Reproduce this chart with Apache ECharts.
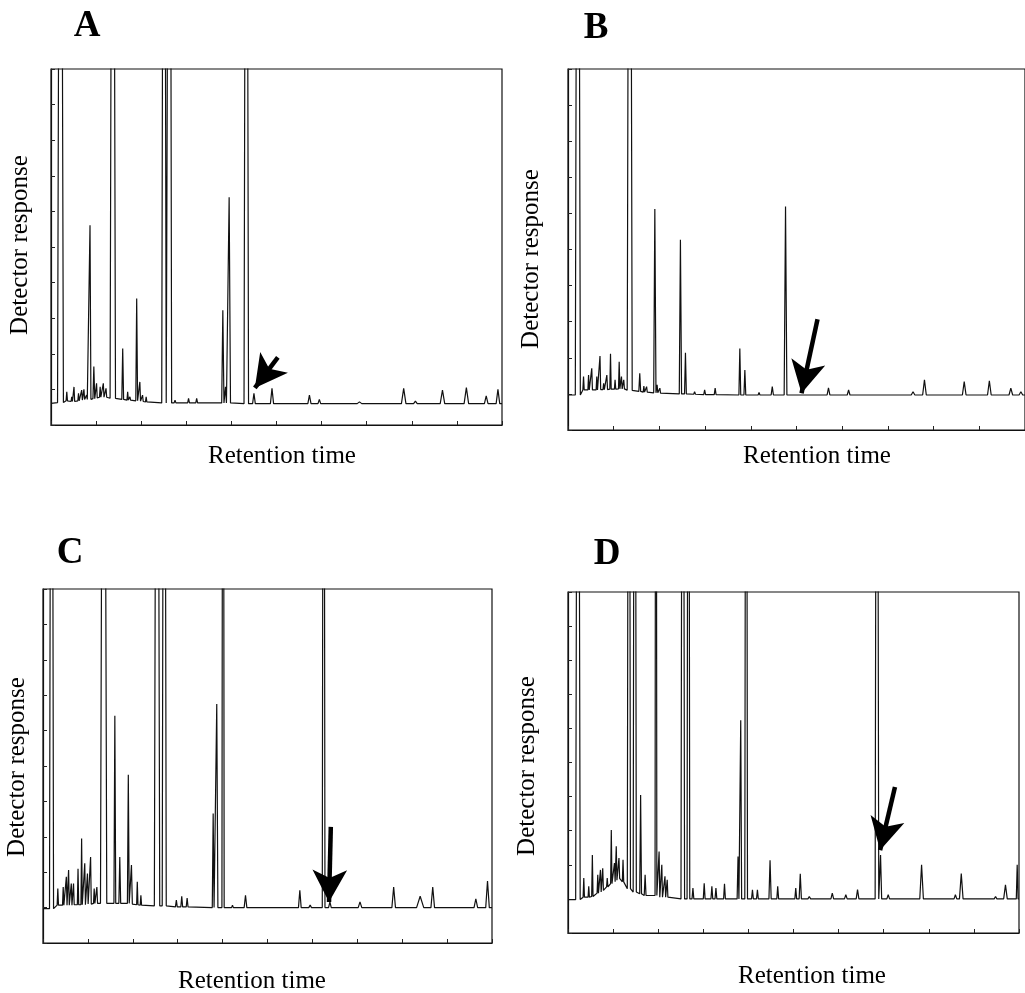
<!DOCTYPE html>
<html><head><meta charset="utf-8">
<script src="https://cdn.jsdelivr.net/npm/echarts@6/dist/echarts.min.js"></script>
<style>html,body{margin:0;padding:0;background:#fff}#c{width:1025px;height:993px}</style>
</head><body><div id="c"></div>
<script>
// Peak tables: [retention time, peak height, local baseline, half-width] (axis units 0..10)
const peaksA = [
 [0.21,30,0.63,0.065],[0.35,0.93,0.68,0.015],[0.46,0.79,0.66,0.015],[0.51,1.07,0.66,0.015],
 [0.61,0.89,0.68,0.015],[0.68,0.98,0.70,0.015],[0.73,1.00,0.72,0.015],[0.79,0.84,0.72,0.015],
 [0.865,5.61,0.72,0.02],[0.95,1.64,0.74,0.02],[1.01,1.17,0.76,0.015],[1.09,1.07,0.78,0.015],
 [1.16,1.17,0.78,0.015],[1.22,1.03,0.78,0.015],[1.37,30,0.75,0.06],[1.59,2.15,0.72,0.02],
 [1.70,0.93,0.70,0.015],[1.75,0.79,0.70,0.015],[1.90,3.55,0.68,0.02],[1.97,1.21,0.67,0.015],
 [2.03,0.84,0.66,0.015],[2.11,0.79,0.65,0.015],[2.505,30,0.62,0.05],[2.63,30,0.62,0.045],
 [2.75,0.70,0.62,0.02],[3.05,0.75,0.62,0.02],[3.23,0.75,0.62,0.02],[3.81,3.22,0.62,0.025],
 [3.87,1.07,0.62,0.02],[3.95,6.40,0.62,0.03],[4.33,30,0.60,0.05],[4.50,0.89,0.60,0.03],
 [4.90,1.03,0.60,0.035],[5.73,0.84,0.60,0.035],[5.95,0.72,0.60,0.03],[6.84,0.65,0.60,0.05],
 [7.82,1.03,0.60,0.05],[8.08,0.67,0.60,0.04],[8.68,0.98,0.60,0.05],[9.21,1.05,0.60,0.05],
 [9.65,0.82,0.60,0.04],[9.91,1.00,0.60,0.04]
];
const peaksB = [
 [0.215,30,0.97,0.055],[0.34,1.48,1.11,0.015],[0.45,1.52,1.11,0.015],[0.52,1.71,1.11,0.015],
 [0.63,1.48,1.11,0.015],[0.70,2.05,1.12,0.015],[0.78,1.29,1.12,0.015],[0.85,1.52,1.12,0.015],
 [0.93,2.11,1.13,0.015],[1.03,1.39,1.13,0.015],[1.12,1.89,1.14,0.015],[1.17,1.48,1.14,0.015],
 [1.22,1.39,1.14,0.015],[1.35,30,1.10,0.055],[1.57,1.57,1.07,0.02],[1.66,1.22,1.05,0.015],
 [1.72,1.20,1.05,0.015],[1.90,6.12,1.03,0.025],[1.95,1.25,1.03,0.015],[2.01,1.16,1.02,0.015],
 [2.46,5.27,1.00,0.025],[2.57,2.14,1.00,0.02],[2.77,1.06,0.99,0.02],[2.99,1.11,0.98,0.02],
 [3.22,1.16,0.98,0.02],[3.76,2.26,0.97,0.02],[3.87,1.66,0.97,0.02],[4.18,1.04,0.97,0.02],
 [4.47,1.20,0.97,0.025],[4.76,6.19,0.97,0.03],[5.70,1.17,0.97,0.03],[5.94,1.02,0.97,0.03],
 [6.14,1.11,0.97,0.03],[6.39,1.00,0.97,0.04],[7.55,1.06,0.97,0.04],[7.80,1.39,0.97,0.04],
 [8.06,1.00,0.97,0.04],[8.67,1.34,0.97,0.04],[9.22,1.36,0.97,0.04],[9.69,1.16,0.97,0.04],
 [9.91,1.06,0.97,0.04]
];
const peaksC = [
 [0.19,30,0.97,0.045],[0.33,1.54,1.07,0.015],[0.45,1.58,1.07,0.015],[0.52,1.87,1.07,0.015],
 [0.57,2.06,1.07,0.015],[0.63,1.68,1.07,0.015],[0.68,1.68,1.08,0.015],[0.78,2.10,1.08,0.015],
 [0.86,2.95,1.08,0.015],[0.93,2.25,1.08,0.015],[0.99,1.96,1.10,0.015],[1.06,2.43,1.10,0.015],
 [1.14,1.54,1.12,0.015],[1.20,1.58,1.12,0.015],[1.35,30,1.12,0.07],[1.60,6.42,1.12,0.02],
 [1.71,2.43,1.12,0.02],[1.90,4.75,1.12,0.02],[1.97,2.20,1.10,0.02],[2.10,1.73,1.08,0.015],
 [2.18,1.35,1.07,0.015],[2.54,30,1.05,0.06],[2.70,30,1.05,0.045],[2.97,1.21,1.02,0.02],
 [3.09,1.32,1.02,0.02],[3.21,1.27,1.02,0.02],[3.79,3.66,1.00,0.02],[3.87,6.75,1.00,0.025],
 [4.01,30,1.00,0.025],[4.22,1.07,1.00,0.02],[4.51,1.35,1.00,0.03],[5.39,1.02,1.00,0.04],
 [5.72,1.49,1.00,0.03],[5.95,1.07,1.00,0.03],[6.25,30,1.00,0.03],[6.39,1.16,1.00,0.03],
 [7.06,1.16,1.00,0.04],[7.81,1.58,1.00,0.04],[8.40,1.32,1.00,0.08],[8.68,1.58,1.00,0.04],
 [9.64,1.25,1.00,0.04],[9.90,1.75,1.00,0.04]
];
const peaksD = [
 [0.22,30,0.98,0.05],[0.35,1.61,1.05,0.015],[0.46,1.37,1.05,0.015],[0.54,2.29,1.07,0.015],
 [0.66,1.71,1.17,0.015],[0.72,1.85,1.20,0.015],[0.77,1.90,1.25,0.015],[0.87,1.61,1.35,0.015],
 [0.96,3.02,1.45,0.015],[1.03,2.05,1.50,0.015],[1.07,2.54,1.55,0.015],[1.13,2.20,1.60,0.015],
 [1.22,2.15,1.50,0.015],[1.35,30,1.30,0.035],[1.48,30,1.20,0.035],[1.61,4.05,1.15,0.02],
 [1.71,1.71,1.10,0.02],[1.95,30,1.10,0.02],[2.02,2.39,1.05,0.015],[2.08,2.00,1.05,0.015],
 [2.15,1.66,1.05,0.015],[2.20,1.56,1.05,0.015],[2.545,30,1.00,0.04],[2.67,30,1.00,0.03],
 [2.77,1.32,1.00,0.02],[3.02,1.46,1.00,0.02],[3.19,1.37,1.00,0.02],[3.28,1.32,1.00,0.02],
 [3.47,1.44,1.00,0.02],[3.77,2.24,1.00,0.02],[3.83,6.24,1.00,0.02],[3.95,30,1.00,0.03],
 [4.09,1.27,1.00,0.02],[4.20,1.27,1.00,0.02],[4.48,2.13,1.00,0.025],[4.65,1.37,1.00,0.02],
 [5.05,1.32,1.00,0.02],[5.15,1.74,1.00,0.025],[5.35,1.07,1.00,0.03],[5.86,1.17,1.00,0.03],
 [6.16,1.12,1.00,0.03],[6.42,1.27,1.00,0.03],[6.85,30,1.00,0.04],[6.93,2.29,1.00,0.025],
 [7.10,1.12,1.00,0.03],[7.84,2.00,1.00,0.04],[8.11,1.04,1.00,0.03],[8.22,1.04,1.00,0.03],
 [8.59,1.12,1.00,0.03],[8.72,1.74,1.00,0.04],[8.92,1.02,1.00,0.03],[9.48,1.07,1.00,0.03],
 [9.70,1.41,1.00,0.04],[9.96,2.00,1.00,0.02]
];
// trace start / end levels
const edgesA = [[0,0.61],[10,0.60]];
const edgesB = [[0,0.97],[10,0.97]];
const edgesC = [[0,0.97],[10,1.00]];
const edgesD = [[0,0.98],[10,1.00]];
// arrows: [tail, tip] in axis units
const arrowA = [[5.03,1.90],[4.52,1.04]];
const arrowB = [[5.46,3.07],[5.11,1.02]];
const arrowC = [[6.41,3.28],[6.37,1.16]];
const arrowD = [[7.25,4.28],[6.92,2.43]];
const panelLetters = ['A','B','C','D'];
const xTitle = 'Retention time';
const yTitle = 'Detector response';
const xTicks = [0,1,2,3,4,5,6,7,8,9,10];

function trace(edges, peaks){
  const pts=[edges[0].slice()];
  peaks.slice().sort((a,b)=>a[0]-b[0]).forEach(p=>{
    const last = pts[pts.length-1][0];
    const l = Math.max(p[0]-p[3], last);
    pts.push([l,p[2]]); pts.push([p[0],p[1]]); pts.push([p[0]+p[3],p[2]]);
  });
  pts.push(edges[1].slice());
  return pts;
}

const grids = [
  {left:51, top:69, width:451, height:356},
  {left:568, top:69, width:460, height:361},
  {left:43, top:589, width:449, height:354},
  {left:568, top:592, width:451, height:341}
];
const panels = [[peaksA,edgesA,arrowA],[peaksB,edgesB,arrowB],[peaksC,edgesC,arrowC],[peaksD,edgesD,arrowD]];
const letterPos = [[87,26],[596,28],[70,553],[607,554]];
const yTitlePos = [[20,245],[531,259],[17,767],[527,766]];
const xTitlePos = [[282,456],[817,456],[252,981],[812,976]];

const axisCommon = {
  type:'value', min:xTicks[0], max:xTicks[xTicks.length-1], interval:1,
  axisLine:{show:true, lineStyle:{color:'#111', width:1.2}},
  axisTick:{show:true, inside:true, length:4, lineStyle:{color:'#222'}},
  axisLabel:{show:false}, splitLine:{show:false}
};

const option = {
  animation:false,
  backgroundColor:'#fff',
  grid: grids.map(g=>Object.assign({show:true, borderColor:'#111', borderWidth:1.2, backgroundColor:'transparent'}, g)),
  xAxis: grids.map((g,i)=>Object.assign({gridIndex:i}, axisCommon)),
  yAxis: grids.map((g,i)=>Object.assign({gridIndex:i}, axisCommon)),
  series: panels.map((p,i)=>({
    type:'line', xAxisIndex:i, yAxisIndex:i, showSymbol:false, symbol:'none', clip:true,
    data: trace(p[1], p[0]),
    lineStyle:{color:'#111', width:1.2},
    markLine:{
      silent:true, animation:false, symbol:['none','arrow'], symbolSize:[26,32],
      lineStyle:{color:'#000', width:4.5, type:'solid'}, label:{show:false},
      data:[[{coord:p[2][0]},{coord:p[2][1]}]]
    }
  })),
  graphic: [].concat(
    panelLetters.map((t,i)=>({type:'text', x:letterPos[i][0], y:letterPos[i][1],
      style:{text:t, font:'bold 37px "Liberation Serif"', fill:'#000', textAlign:'center', textVerticalAlign:'middle'}})),
    yTitlePos.map(pp=>({type:'text', x:pp[0], y:pp[1], rotation:Math.PI/2,
      style:{text:yTitle, font:'25px "Liberation Serif"', fill:'#000', textAlign:'center', textVerticalAlign:'middle'}})),
    xTitlePos.map(pp=>({type:'text', x:pp[0], y:pp[1],
      style:{text:xTitle, font:'25px "Liberation Serif"', fill:'#000', textAlign:'center', textVerticalAlign:'middle'}}))
  )
};
const chart = echarts.init(document.getElementById('c'), null, {renderer:'canvas'});
chart.setOption(option);
</script></body></html>
